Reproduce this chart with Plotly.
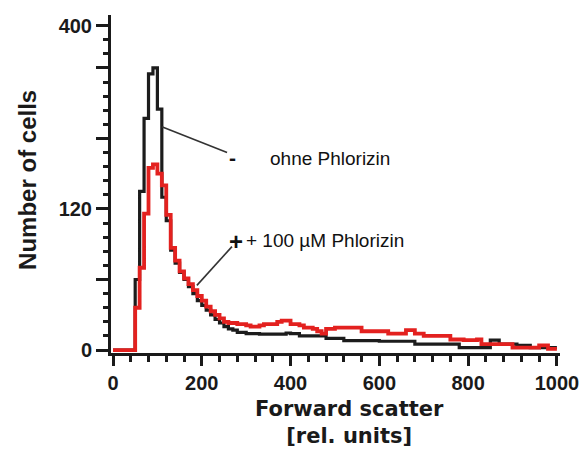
import plotly.graph_objects as go

# ---- data (histogram, bin width 10 rel. units) ----
bin_starts = list(range(0, 1000, 10))

black_counts = [
    0, 0, 0, 0, 0, 60, 135, 197, 235, 240,
    205, 130, 110, 85, 74, 66, 60, 54, 48, 42,
    38, 34, 30, 26, 23, 20, 18, 17, 15, 15,
    14, 14, 14, 13.5, 13.5, 13.5, 13.5, 13.5, 13.5, 14.5,
    14, 14, 12, 12, 12, 12, 12, 12, 10, 10,
    10, 10, 8, 8, 8, 8, 8, 8, 8, 8,
    7.5, 7.5, 7.5, 7.5, 7.5, 7.5, 7.5, 7.5, 5, 5,
    5, 5, 5, 5, 5, 5, 5, 5, 2, 2,
    2, 2, 2, 2, 2, 8.5, 8.5, 5, 5, 5,
    5, 4, 4, 4, 2, 2, 2, 2, 2, 2,
]

red_counts = [
    0, 0, 0, 0, 0, 36, 70, 116, 155, 158,
    150, 140, 115, 87, 76, 67, 61, 56, 51, 46,
    42, 37, 33, 30, 27, 24, 23, 23, 22, 22,
    21, 20, 20, 21, 22, 22, 22, 24, 25, 25,
    22, 22, 21, 19, 19, 18, 16, 14, 18, 18,
    19, 19, 19, 19, 19, 19, 16, 16, 16, 16,
    16, 16, 14, 14, 14, 14, 17, 17, 14, 14,
    12, 12, 12, 12, 12, 12, 9, 9, 9, 8.5,
    8.5, 8.5, 9, 5, 5, 5, 5, 5, 5, 5,
    2, 2, 2, 2, 2, 2, 4, 4, 1, 1,
]

x_major_ticks = [0, 200, 400, 600, 800, 1000]
x_major_labels = ["0", "200", "400", "600", "800", "1000"]
y_major_ticks = [0, 60, 120, 180, 240, 276]
y_major_labels = ["0", "", "120", "", "", "400"]

label_minus = "ohne Phlorizin"
label_plus = "+ 100 µM Phlorizin"

XR = [-4.5, 1007]
YR = [-2.5, 285]
AXC = "#1a1a1a"

x_minor = [v for v in range(40, 1001, 40) if v % 200 != 0]
y_minor = [v for v in range(12, 265, 12) if v % 60 != 0]

edges = bin_starts + [1000]

fig = go.Figure()
fig.add_trace(go.Scatter(x=edges, y=black_counts + [black_counts[-1]],
                         mode="lines", line=dict(color="#1c1c1c", width=3.2, shape="hv"),
                         showlegend=False, hoverinfo="skip"))
fig.add_trace(go.Scatter(x=edges, y=red_counts + [red_counts[-1]],
                         mode="lines", line=dict(color="#e3211f", width=3.8, shape="hv"),
                         showlegend=False, hoverinfo="skip"))
# invisible helpers so the overlay x axes (extra tick layers) get drawn
for xa in ("x2", "x3"):
    fig.add_trace(go.Scatter(x=[XR[0]], y=[YR[0]], xaxis=xa, yaxis="y", mode="markers",
                             marker=dict(opacity=0), showlegend=False, hoverinfo="skip"))

tickfont = dict(family="Liberation Sans, Arial", size=20, color=AXC)

fig.update_layout(
    xaxis=dict(range=XR, showgrid=False, zeroline=False, automargin=False,
               showline=True, linecolor=AXC, linewidth=3,
               tickmode="array", tickvals=x_major_ticks,
               ticktext=["<b>%s</b>" % t for t in x_major_labels],
               ticks="outside", ticklen=10, tickwidth=3, tickcolor=AXC,
               tickfont=tickfont,
               minor=dict(tickmode="array", tickvals=x_minor, ticks="outside",
                          ticklen=6, tickwidth=2.5, tickcolor=AXC, showgrid=False)),
    xaxis2=dict(range=XR, overlaying="x", anchor="y", side="bottom", automargin=False,
                showgrid=False, zeroline=False, showline=False,
                tickmode="array", tickvals=x_major_ticks, showticklabels=False,
                ticks="outside", ticklen=10, tickwidth=3, tickcolor=AXC),
    xaxis3=dict(range=XR, overlaying="x", anchor="y", side="bottom", automargin=False,
                showgrid=False, zeroline=False, showline=False,
                tickmode="array", tickvals=x_minor, showticklabels=False,
                ticks="outside", ticklen=6, tickwidth=2.5, tickcolor=AXC),
    yaxis=dict(range=YR, showgrid=False, zeroline=False, automargin=False,
               showline=True, linecolor=AXC, linewidth=3,
               tickmode="array", tickvals=y_major_ticks,
               ticktext=["<b>%s</b>" % t for t in y_major_labels],
               ticks="outside", ticklen=12, tickwidth=3, tickcolor=AXC,
               tickfont=tickfont,
               minor=dict(tickmode="array", tickvals=y_minor, ticks="outside",
                          ticklen=5, tickwidth=2.5, tickcolor=AXC, showgrid=False)),
)

# leader lines
fig.add_shape(type="line", xref="x", yref="y", x0=110, y0=190, x1=257, y1=168,
              line=dict(color="#333333", width=1.6))
fig.add_shape(type="line", xref="x", yref="y", x0=189, y0=55, x1=268, y1=88,
              line=dict(color="#333333", width=1.6))

ann_font = dict(family="Liberation Sans, Arial", size=19, color="#111111")
fig.add_annotation(x=270, y=164, xref="x", yref="y", text="<b>-</b>", showarrow=False,
                   font=dict(family="Liberation Sans, Arial", size=21, color="#111111"))
fig.add_annotation(x=349, y=163, xref="x", yref="y", text=label_minus, showarrow=False,
                   xanchor="left", font=ann_font)
fig.add_annotation(x=278, y=92, xref="x", yref="y", text="<b>+</b>", showarrow=False,
                   font=dict(family="Liberation Sans, Arial", size=24, color="#111111"))
fig.add_annotation(x=295, y=93, xref="x", yref="y", text=label_plus, showarrow=False,
                   xanchor="left", font=ann_font)

# axis titles
fig.add_annotation(x=-0.185, y=0.512, xref="paper", yref="paper", text="<b>Number of cells</b>",
                   textangle=-90, showarrow=False, xanchor="center", yanchor="middle",
                   font=dict(family="Liberation Sans, Arial", size=24, color=AXC))
fig.add_annotation(x=0.532, y=-0.205, xref="paper", yref="paper",
                   text="<b>Forward scatter</b><br><b>[rel. units]</b>", showarrow=False,
                   xanchor="center", yanchor="middle",
                   font=dict(family="DejaVu Sans, Liberation Sans", size=21, color=AXC))

fig.update_layout(width=587, height=454,
                  margin=dict(l=111, r=27, t=15, b=101, autoexpand=False),
                  showlegend=False, paper_bgcolor="white", plot_bgcolor="white")

fig.write_html("out.html")
